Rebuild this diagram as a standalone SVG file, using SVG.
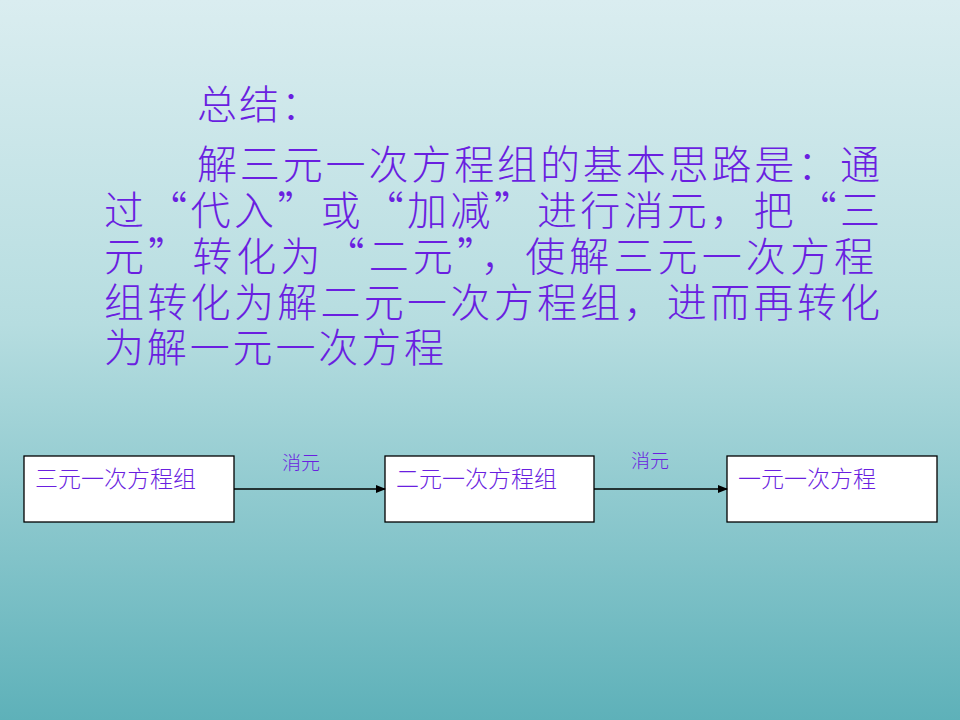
<svg xmlns="http://www.w3.org/2000/svg" width="960" height="720" viewBox="0 0 960 720">
<defs>
<linearGradient id="bg" x1="0" y1="0" x2="0" y2="1">
<stop offset="0" stop-color="#daedf0"/>
<stop offset="0.45" stop-color="#b6dde0"/>
<stop offset="1" stop-color="#5eb1b9"/>
</linearGradient>
<marker id="ah" markerWidth="10" markerHeight="8" refX="9" refY="4" orient="auto" markerUnits="userSpaceOnUse">
<path d="M0,0 L10,4 L0,8 Z" fill="#000"/>
</marker>
<style>
.t{font-family:"Noto Sans CJK SC","Liberation Serif",serif;fill:#6a1fe0;font-size:40px;font-weight:300}
.b{fill:#fff;stroke:#000;stroke-width:1.3}
.bt{font-family:"Noto Sans CJK SC","Liberation Serif",serif;fill:#6a1fe0;font-size:23px;font-weight:300}
.l{font-family:"Noto Sans CJK SC","Liberation Serif",serif;fill:#6a1fe0;font-size:19px;font-weight:300}
.c{stroke:#000;stroke-width:1.3;fill:none;marker-end:url(#ah)}
</style>
</defs>
<rect width="960" height="720" fill="url(#bg)"/>
<g id="text">
<text class="t" x="197" y="119" textLength="124" lengthAdjust="spacing">总结：</text>
<text class="t" x="197" y="179" textLength="683" lengthAdjust="spacing">解三元一次方程组的基本思路是：通</text>
<text class="t" x="104" y="225" textLength="776" lengthAdjust="spacing">过“代入”或“加减”进行消元，把“三</text>
<text class="t" x="104" y="271" textLength="770" lengthAdjust="spacing">元”转化为“二元”，使解三元一次方程</text>
<text class="t" x="104" y="317" textLength="776" lengthAdjust="spacing">组转化为解二元一次方程组，进而再转化</text>
<text class="t" x="104" y="362" textLength="340" lengthAdjust="spacing">为解一元一次方程</text>
</g>
<g id="n1"><rect class="b" x="24" y="456" width="210" height="66"/><text class="bt" x="35" y="487">三元一次方程组</text></g>
<g id="n2"><rect class="b" x="385" y="456" width="209" height="66"/><text class="bt" x="396" y="487">二元一次方程组</text></g>
<g id="n3"><rect class="b" x="727" y="456" width="210" height="66"/><text class="bt" x="738" y="487">一元一次方程</text></g>
<g id="connectors">
<line class="c" x1="234" y1="489" x2="385" y2="489"/>
<line class="c" x1="594" y1="489" x2="727" y2="489"/>
<text class="l" x="282" y="470">消元</text>
<text class="l" x="631" y="468">消元</text>
</g>
</svg>
